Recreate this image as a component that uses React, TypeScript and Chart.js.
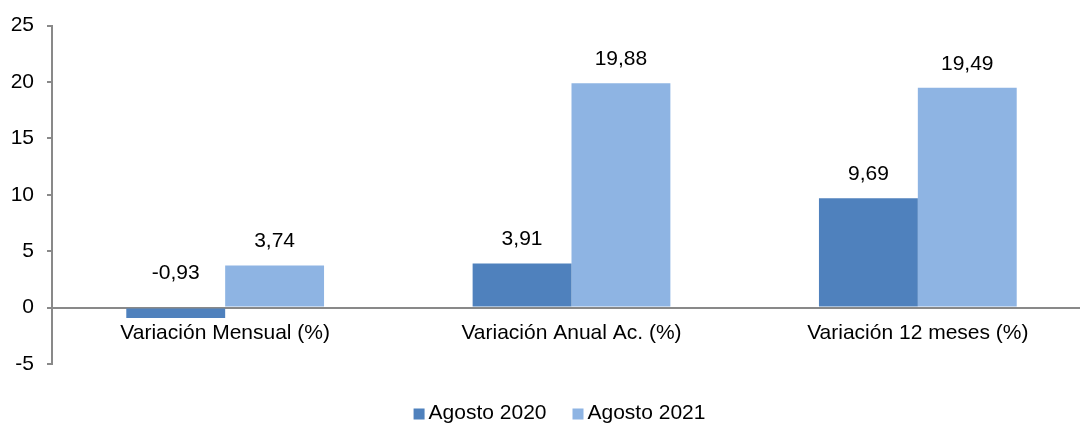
import React, { useEffect, useRef } from "react";
import { Chart, registerables } from "chart.js";

Chart.register(...registerables);

const categories = ["Variación Mensual (%)", "Variación Anual Ac. (%)", "Variación 12 meses (%)"];
const seriesNames = ["Agosto 2020", "Agosto 2021"];
const agosto2020 = [-0.93, 3.91, 9.69];
const agosto2021 = [3.74, 19.88, 19.49];
const yMin = -5;
const yMax = 25;
const yStep = 5;

const FONT = '"Liberation Sans", Arial, sans-serif';
const FS = 21;
const COLORS = ["#4F81BD", "#8EB4E3"];
const AXIS = "#898989";
const CANVAS_W = 1119;
const CANVAS_H = 423;

const fmt = (v: number) => v.toFixed(2).replace(".", ",");

const dataLabels = {
  id: "dataLabels",
  afterDatasetsDraw(chart: any) {
    const ctx = chart.ctx;
    ctx.save();
    ctx.font = `${FS}px ${FONT}`;
    ctx.fillStyle = "#000";
    ctx.textAlign = "center";
    ctx.textBaseline = "middle";
    chart.data.datasets.forEach((ds: any, i: number) => {
      const meta = chart.getDatasetMeta(i);
      meta.data.forEach((el: any, j: number) => {
        const v = ds.data[j];
        const top = Math.min(el.y, el.base);
        const off = v < 0 ? 35 : 24;
        ctx.fillText(fmt(v), el.x, top - off);
      });
    });
    ctx.restore();
  },
};

const customLegend = {
  id: "customLegend",
  afterDraw(chart: any) {
    const ctx = chart.ctx;
    ctx.save();
    ctx.font = `${FS}px ${FONT}`;
    ctx.textBaseline = "middle";
    ctx.textAlign = "left";
    const box = 11;
    const gap = 4;
    const itemGap = 26;
    const widths = seriesNames.map((n) => box + gap + ctx.measureText(n).width);
    const total = widths.reduce((a, b) => a + b, 0) + itemGap * (widths.length - 1);
    let x = chart.width / 2 - total / 2;
    const yc = 413;
    seriesNames.forEach((n, i) => {
      ctx.fillStyle = COLORS[i];
      ctx.fillRect(x, yc - box / 2 + 1, box, box);
      ctx.fillStyle = "#000";
      ctx.fillText(n, x + box + gap, yc);
      x += widths[i] + itemGap;
    });
    ctx.restore();
  },
};

export default function App() {
  const ref = useRef<HTMLCanvasElement>(null);
  useEffect(() => {
    if (!ref.current) return;
    const chart = new Chart(ref.current, {
      type: "bar",
      data: {
        labels: categories,
        datasets: [
          { label: seriesNames[0], data: agosto2020, backgroundColor: COLORS[0], borderWidth: 0 },
          { label: seriesNames[1], data: agosto2021, backgroundColor: COLORS[1], borderWidth: 0 },
        ],
      },
      options: {
        responsive: false,
        animation: false,
        devicePixelRatio: 1,
        categoryPercentage: 0.571,
        barPercentage: 1,
        layout: { padding: { left: 0, top: 21, right: 28, bottom: 59 } },
        plugins: { legend: { display: false }, tooltip: { enabled: false } },
        scales: {
          x: {
            type: "category",
            position: { y: 0 } as any,
            grid: { display: true, drawOnChartArea: false, drawTicks: false },
            border: { display: true, color: AXIS, width: 2 },
            ticks: { color: "#000", font: { family: FONT, size: FS }, padding: 13, maxRotation: 0 },
          },
          y: {
            min: yMin,
            max: yMax,
            afterFit(scale: any) {
              scale.width = 52;
            },
            grid: { drawOnChartArea: false, drawTicks: true, tickLength: 5, color: AXIS, lineWidth: 2 },
            border: { display: true, color: AXIS, width: 2 },
            ticks: { stepSize: yStep, color: "#000", font: { family: FONT, size: FS }, padding: 13 },
          },
        },
      },
      plugins: [dataLabels, customLegend],
    });
    return () => chart.destroy();
  }, []);
  return (
    <div style={{ position: "absolute", left: 0, top: 0, width: 1080, height: CANVAS_H, overflow: "hidden", background: "#fff" }}>
      <canvas ref={ref} width={CANVAS_W} height={CANVAS_H} style={{ display: "block" }} />
    </div>
  );
}
